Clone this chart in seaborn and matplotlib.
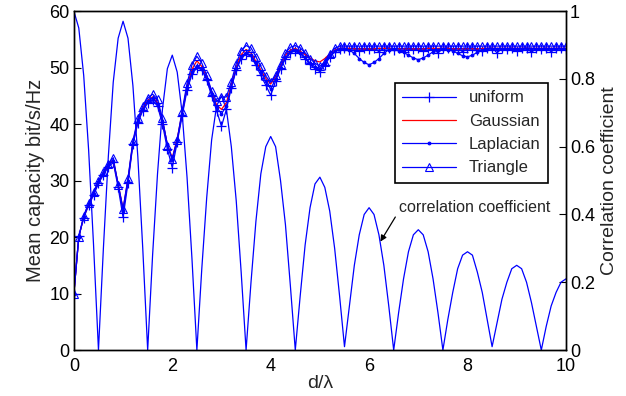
import numpy as np
import seaborn as sns
import matplotlib.pyplot as plt

# d / lambda, sampled every 0.1
d = np.round(np.arange(0, 101) * 0.1, 1)

gaussian = [10.0, 20.0, 23.6, 25.8, 27.8, 29.8, 31.3, 32.8, 33.6, 29.4,
            25.0, 30.2, 36.8, 40.6, 42.8, 44.2, 44.8, 43.8, 40.7, 36.4,
            34.0, 37.4, 42.0, 46.7, 49.7, 51.2, 50.2, 48.3, 45.7, 43.4,
            42.6, 43.8, 47.0, 50.1, 52.3, 53.2, 52.6, 51.1, 49.6, 48.1,
            47.1, 48.4, 50.3, 52.2, 53.1, 53.4, 52.9, 52.3, 51.7, 51.2,
            51.0, 51.6, 52.4, 53.1, 53.4, 53.4, 53.4, 53.3, 53.3, 53.3,
            53.3, 53.3, 53.4, 53.4, 53.4, 53.3, 53.3, 53.3, 53.3, 53.3,
            53.3, 53.3, 53.4, 53.4, 53.4, 53.4, 53.4, 53.3, 53.3, 53.3,
            53.3, 53.3, 53.3, 53.4, 53.4, 53.4, 53.4, 53.4, 53.4, 53.4,
            53.4, 53.4, 53.4, 53.4, 53.4, 53.4, 53.4, 53.4, 53.4, 53.4,
            53.4]

triangle = [10.0, 20.0, 23.8, 26.0, 28.0, 30.0, 31.6, 33.0, 34.0, 29.2,
            25.0, 30.4, 37.0, 41.0, 43.2, 44.6, 45.3, 44.4, 41.0, 36.2,
            33.9, 37.2, 42.3, 47.2, 50.5, 52.0, 50.8, 48.6, 45.9, 44.0,
            44.8, 44.8, 47.5, 50.7, 53.0, 53.9, 53.5, 51.9, 50.2, 48.5,
            47.4, 48.6, 50.6, 52.6, 53.6, 53.9, 53.5, 52.6, 51.6, 50.8,
            50.2, 51.0, 52.4, 53.4, 53.8, 53.8, 53.8, 53.8, 53.8, 53.8,
            53.8, 53.8, 53.8, 53.8, 53.8, 53.8, 53.8, 53.8, 53.8, 53.8,
            53.8, 53.8, 53.8, 53.8, 53.8, 53.8, 53.8, 53.8, 53.8, 53.8,
            53.8, 53.8, 53.8, 53.8, 53.8, 53.8, 53.8, 53.8, 53.8, 53.8,
            53.8, 53.8, 53.8, 53.8, 53.8, 53.8, 53.8, 53.8, 53.8, 53.8,
            53.8]

uniform = [10.0, 20.2, 23.4, 25.6, 27.4, 29.5, 31.0, 32.4, 33.2, 28.8,
           23.5, 29.6, 36.4, 40.2, 42.4, 43.7, 44.2, 43.2, 40.0, 35.6,
           32.3, 36.8, 41.4, 46.0, 48.8, 50.0, 49.6, 47.8, 45.0, 42.4,
           39.6, 42.6, 46.4, 49.6, 51.6, 52.4, 52.0, 50.4, 48.6, 46.9,
           45.1, 47.6, 49.8, 51.6, 52.6, 53.0, 52.5, 51.6, 50.6, 49.8,
           49.3, 50.5, 51.8, 52.8, 53.3, 53.4, 53.2, 53.5, 52.9, 53.4,
           53.3, 53.5, 52.8, 53.4, 53.5, 53.2, 53.4, 52.7, 53.5, 53.3,
           53.4, 53.0, 53.5, 53.3, 52.6, 53.4, 53.5, 53.1, 53.4, 52.8,
           53.4, 53.5, 53.2, 52.9, 53.4, 53.5, 52.6, 53.4, 53.3, 53.5,
           53.0, 53.4, 53.5, 52.7, 53.4, 53.3, 53.5, 52.8, 53.4, 53.4,
           53.3]

laplacian = [10.0, 20.0, 23.6, 25.8, 27.7, 29.7, 31.2, 32.7, 33.5, 29.4,
             24.6, 30.0, 36.6, 40.5, 42.6, 44.0, 44.6, 43.6, 40.6, 36.4,
             33.6, 37.2, 41.8, 46.4, 49.2, 50.2, 49.8, 48.0, 45.4, 43.0,
             41.8, 43.2, 46.6, 49.8, 51.8, 52.6, 52.2, 50.8, 49.2, 47.6,
             46.2, 48.0, 50.0, 51.8, 52.8, 53.1, 52.6, 51.8, 50.8, 50.1,
             49.8, 50.8, 52.0, 52.9, 53.3, 53.3, 53.1, 52.5, 51.6, 50.9,
             50.5, 50.9, 51.6, 52.5, 53.2, 53.3, 53.0, 52.7, 52.2, 51.7,
             51.4, 51.7, 52.2, 52.8, 53.2, 53.3, 53.2, 53.0, 52.5, 52.1,
             51.9, 52.2, 52.7, 53.1, 53.3, 53.3, 53.3, 53.3, 53.3, 53.3,
             53.3, 53.3, 53.3, 53.3, 53.3, 53.3, 53.3, 53.3, 53.3, 53.3,
             53.3]

corr = [1.00, 0.95, 0.81, 0.59, 0.31, 0.00, 0.30, 0.57, 0.79, 0.92,
        0.97, 0.92, 0.78, 0.57, 0.30, 0.00, 0.28, 0.52, 0.71, 0.83,
        0.87, 0.82, 0.70, 0.51, 0.27, 0.00, 0.24, 0.45, 0.62, 0.72,
        0.75, 0.71, 0.60, 0.44, 0.23, 0.00, 0.20, 0.38, 0.52, 0.60,
        0.63, 0.60, 0.50, 0.37, 0.19, 0.00, 0.16, 0.31, 0.42, 0.49,
        0.51, 0.48, 0.41, 0.30, 0.16, 0.01, 0.13, 0.25, 0.34, 0.40,
        0.42, 0.40, 0.34, 0.25, 0.13, 0.00, 0.11, 0.21, 0.29, 0.34,
        0.355, 0.34, 0.29, 0.21, 0.11, 0.00, 0.09, 0.17, 0.24, 0.28,
        0.29, 0.28, 0.23, 0.17, 0.09, 0.01, 0.08, 0.15, 0.20, 0.24,
        0.25, 0.24, 0.20, 0.14, 0.07, 0.00, 0.07, 0.13, 0.17, 0.20,
        0.21]

blue = '#0000ff'

sns.set_style('white')
plt.rcParams['font.family'] = ['Liberation Sans', 'DejaVu Sans']

fig = plt.figure(figsize=(6.26, 3.96), dpi=100)
ax = fig.add_axes([0.118, 0.116, 0.786, 0.856])

sns.lineplot(x=d, y=uniform, ax=ax, color=blue, lw=0.9, marker='+',
             markersize=7, markeredgecolor=blue, markeredgewidth=0.9,
             label='uniform')
sns.lineplot(x=d, y=gaussian, ax=ax, color='#ff0000', lw=0.9,
             label='Gaussian')
sns.lineplot(x=d, y=laplacian, ax=ax, color=blue, lw=0.9, marker='.',
             markersize=4, markeredgecolor=blue, label='Laplacian')
sns.lineplot(x=d, y=triangle, ax=ax, color=blue, lw=0.9, marker='^',
             markersize=6, markerfacecolor='none', markeredgecolor=blue,
             markeredgewidth=0.8, label='Triangle')

ax2 = ax.twinx()
sns.lineplot(x=d, y=corr, ax=ax2, color=blue, lw=0.9)

ax.set_xlim(0, 10)
ax.set_ylim(0, 60)
ax2.set_ylim(0, 1)
ax.set_xticks([0, 2, 4, 6, 8, 10])
ax.set_yticks([0, 10, 20, 30, 40, 50, 60])
ax2.set_yticks([0, 0.2, 0.4, 0.6, 0.8, 1])
ax2.set_yticklabels(['0', '0.2', '0.4', '0.6', '0.8', '1'])

ax.set_xlabel('d/λ', fontsize=14, labelpad=0)
ax.set_ylabel('Mean capacity bit/s/Hz', fontsize=14.5, labelpad=3)
ax2.set_ylabel('Correlation coefficient', fontsize=14, labelpad=4)

for a in (ax, ax2):
    a.tick_params(direction='in', length=5, width=0.8, labelsize=13,
                  colors='black', pad=2)
    for s in a.spines.values():
        s.set_color('black')
        s.set_linewidth(1.0)
ax.tick_params(axis='both', which='both', top=False, right=False)
ax.tick_params(axis='x', pad=6)
ax.tick_params(axis='y', pad=3)
ax2.tick_params(axis='y', left=False, pad=3)

ax.annotate('correlation coefficient', xy=(6.23, 19.2), xytext=(6.6, 25.3),
            fontsize=11.5, va='center', ha='left',
            arrowprops=dict(arrowstyle='-|>', color='black', lw=0.9,
                            mutation_scale=9, shrinkA=0, shrinkB=0,
                            relpos=(0.0, 0.2)))

leg = ax.legend(loc='upper left', bbox_to_anchor=(0.652, 0.788),
                fontsize=12, frameon=True, fancybox=False, framealpha=1,
                edgecolor='black', borderaxespad=0, handlelength=3.2,
                labelspacing=0.5, borderpad=0.45, handletextpad=0.8)
leg.get_frame().set_linewidth(1.2)
leg.set_zorder(20)
ax.set_zorder(ax2.get_zorder() + 1)
ax.patch.set_visible(False)

fig.savefig('out.png', dpi=100)
